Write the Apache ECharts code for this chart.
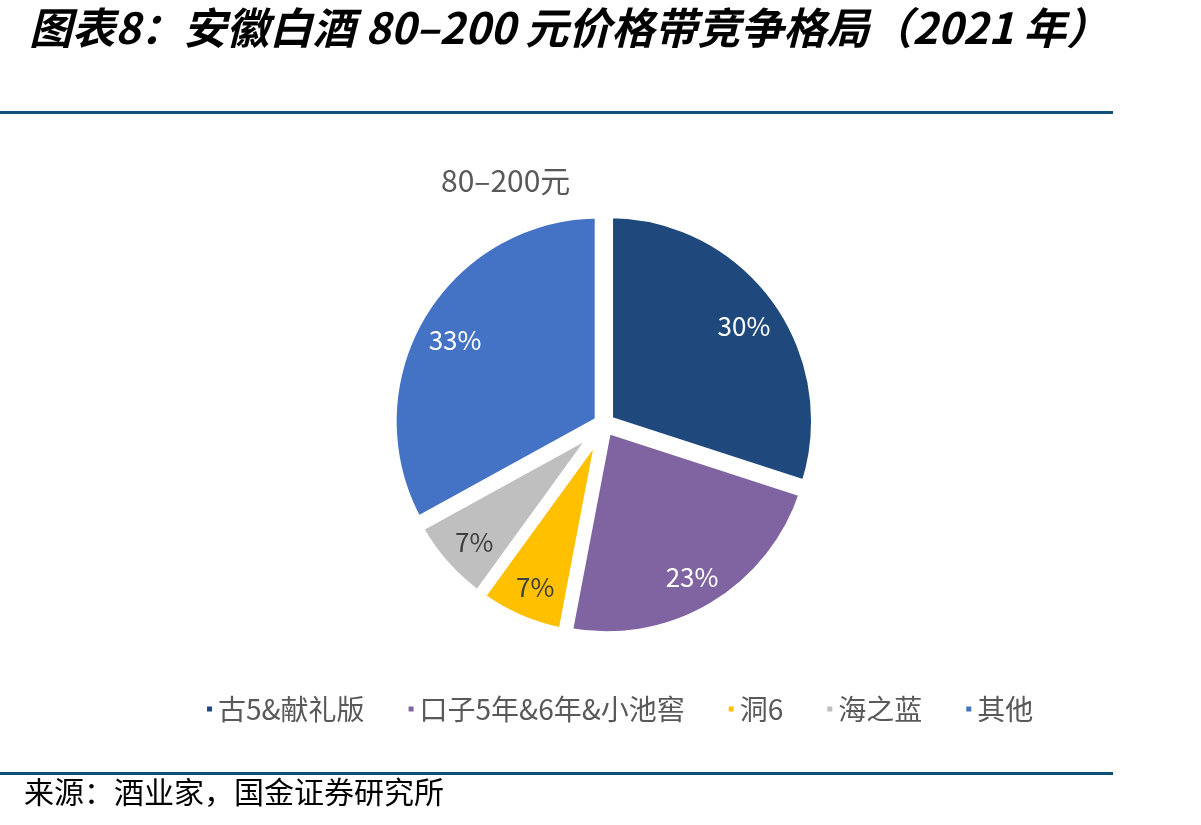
<!DOCTYPE html>
<html>
<head>
<meta charset="utf-8">
<script src="https://cdn.jsdelivr.net/npm/echarts@6/dist/echarts.min.js"></script>
<style>
  html, body { margin: 0; padding: 0; background: #fff; }
  #chart { width: 1201px; height: 825px; }
</style>
</head>
<body>
<div id="chart"></div>
<script>
// 安徽白酒 80-200 元价格带竞争格局（2021 年）
const brands = ["古5&献礼版", "口子5年&6年&小池窖", "洞6", "海之蓝", "其他"];
const shares = [30, 23, 7, 7, 33];
const colors = ["#1F497D", "#8064A2", "#FFC000", "#BFBFBF", "#4472C4"];
const labelColors = ["#fff", "#fff", "#404040", "#404040", "#fff"];

const FONT = '"Noto Sans CJK SC", "Noto Sans", sans-serif';
const RULE = "#0D4F78";

const chart = echarts.init(document.getElementById("chart"));

const pieData = brands.map((name, i) => ({
  name: name,
  value: shares[i],
  selected: true,
  itemStyle: { color: colors[i] }
}));

// transparent ring only used to place the % labels further out
const labelData = brands.map((name, i) => ({
  name: name,
  value: shares[i],
  label: { color: labelColors[i] }
}));

chart.setOption({
  backgroundColor: "#fff",
  animation: false,
  title: [
    {
      text: "图表8：安徽白酒 80–200 元价格带竞争格局（2021 年）",
      left: 24,
      top: 1,
      textStyle: {
        fontFamily: FONT,
        fontSize: 43,
        fontWeight: "bold",
        fontStyle: "italic",
        color: "#000"
      }
    },
    {
      text: "80–200元",
      left: 436,
      top: 161,
      textStyle: {
        fontFamily: FONT,
        fontSize: 30,
        fontWeight: "normal",
        color: "#595959"
      }
    }
  ],
  legend: {
    data: brands,
    left: 200,
    top: 690,
    icon: "rect",
    itemWidth: 7,
    itemHeight: 7,
    itemGap: 42,
    textStyle: {
      fontFamily: FONT,
      fontSize: 28,
      color: "#595959"
    }
  },
  series: [
    {
      type: "pie",
      center: [604, 424],
      radius: [0, 208],
      startAngle: 90,
      clockwise: true,
      selectedMode: "multiple",
      selectedOffset: 5,
      percentPrecision: 0,
      label: { show: false },
      labelLine: { show: false },
      itemStyle: { borderColor: "#fff", borderWidth: 10 },
      emphasis: { disabled: true },
      select: { itemStyle: { borderColor: "#fff", borderWidth: 10 } },
      data: pieData
    },
    {
      type: "pie",
      center: [604, 428],
      radius: [130, 210],
      startAngle: 90,
      clockwise: true,
      silent: true,
      percentPrecision: 0,
      itemStyle: { color: "rgba(0,0,0,0)" },
      labelLine: { show: false },
      label: {
        show: true,
        position: "inside",
        formatter: "{d}%",
        fontFamily: FONT,
        fontSize: 26
      },
      emphasis: { disabled: true },
      data: labelData
    }
  ],
  graphic: [
    {
      type: "line",
      shape: { x1: 0, y1: 112.5, x2: 1113, y2: 112.5 },
      style: { stroke: RULE, lineWidth: 3 }
    },
    {
      type: "line",
      shape: { x1: 0, y1: 773.5, x2: 1113, y2: 773.5 },
      style: { stroke: RULE, lineWidth: 3 }
    },
    {
      type: "text",
      left: 24,
      top: 777,
      style: {
        text: "来源：酒业家，国金证券研究所",
        fontFamily: FONT,
        fontSize: 30,
        fill: "#000"
      }
    }
  ]
});
</script>
</body>
</html>
